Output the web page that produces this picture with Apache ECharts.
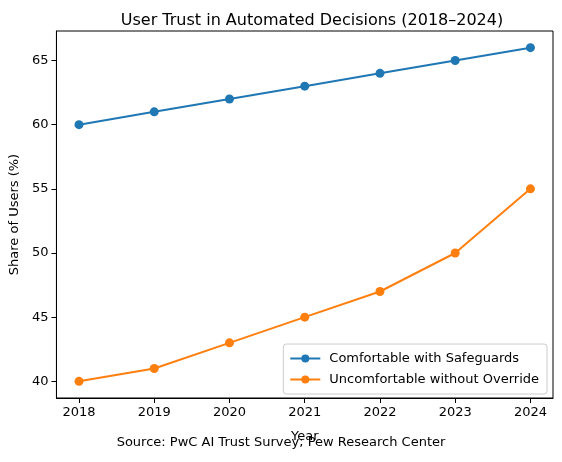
<!DOCTYPE html>
<html><head><meta charset="utf-8">
<script src="https://cdn.jsdelivr.net/npm/echarts@6/dist/echarts.min.js"></script>
<style>html,body{margin:0;padding:0;background:#fff}#c{width:562px;height:462px}</style>
</head><body><div id="c"></div>
<script>
const years = [2018, 2019, 2020, 2021, 2022, 2023, 2024];
const safeguards = [60, 61, 62, 63, 64, 65, 66];
const noOverride = [40, 41, 43, 45, 47, 50, 55];
const yTicks = [40, 45, 50, 55, 60, 65];
const F = 'DejaVu Sans';
const chart = echarts.init(document.getElementById('c'));
const axisCommon = {
  axisLine: {show: true, lineStyle: {color: '#000', width: 1}},
  splitLine: {show: false}
};
chart.setOption({
  animation: false,
  title: {text: 'User Trust in Automated Decisions (2018\u20132024)', left: 307, top: 8, textAlign: 'center',
    textStyle: {fontFamily: F, fontSize: 16, fontWeight: 'normal', color: '#000'}},
  grid: {left: 56, right: 9, top: 31, bottom: 64, show: true, borderColor: '#000', borderWidth: 1},
  xAxis: Object.assign({}, axisCommon, {type: 'value', min: 2017.7, max: 2024.3,
    name: 'Year', nameLocation: 'middle', nameGap: 32, nameTextStyle: {fontFamily: F, fontSize: 13, color: '#000'},
    axisTick: {show: true, length: 5, lineStyle: {color: '#000'}, customValues: years},
    axisLabel: {color: '#000', fontFamily: F, fontSize: 13, customValues: years, margin: 8, formatter: v => String(v)}}),
  yAxis: Object.assign({}, axisCommon, {type: 'value', min: 38.7, max: 67.3,
    name: 'Share of Users (%)', nameLocation: 'middle', nameGap: 35, nameTextStyle: {fontFamily: F, fontSize: 13, color: '#000'},
    axisTick: {show: true, length: 5, lineStyle: {color: '#000'}, customValues: yTicks},
    axisLabel: {color: '#000', fontFamily: F, fontSize: 13, customValues: yTicks, margin: 8, formatter: v => String(v)}}),
  legend: {orient: 'vertical', right: 15, bottom: 68, backgroundColor: '#fff', borderColor: '#ccc', borderWidth: 1,
    borderRadius: 3, padding: [8, 8, 8, 6], itemGap: 8, itemWidth: 30, itemHeight: 10,
    textStyle: {fontFamily: F, fontSize: 13, color: '#000', padding: [0, 0, 0, 4]}},
  graphic: [{type: 'text', left: 'center', top: 436, style: {text: 'Source: PwC AI Trust Survey; Pew Research Center',
    font: '13px "DejaVu Sans"', fill: '#000'}}],
  series: [
    {name: 'Comfortable with Safeguards', type: 'line', data: years.map((y, i) => [y, safeguards[i]]),
      symbol: 'circle', symbolSize: 9, itemStyle: {color: '#1f77b4'}, lineStyle: {width: 2, color: '#1f77b4'}},
    {name: 'Uncomfortable without Override', type: 'line', data: years.map((y, i) => [y, noOverride[i]]),
      symbol: 'circle', symbolSize: 9, itemStyle: {color: '#ff7f0e'}, lineStyle: {width: 2, color: '#ff7f0e'}}
  ]
});
</script></body></html>
